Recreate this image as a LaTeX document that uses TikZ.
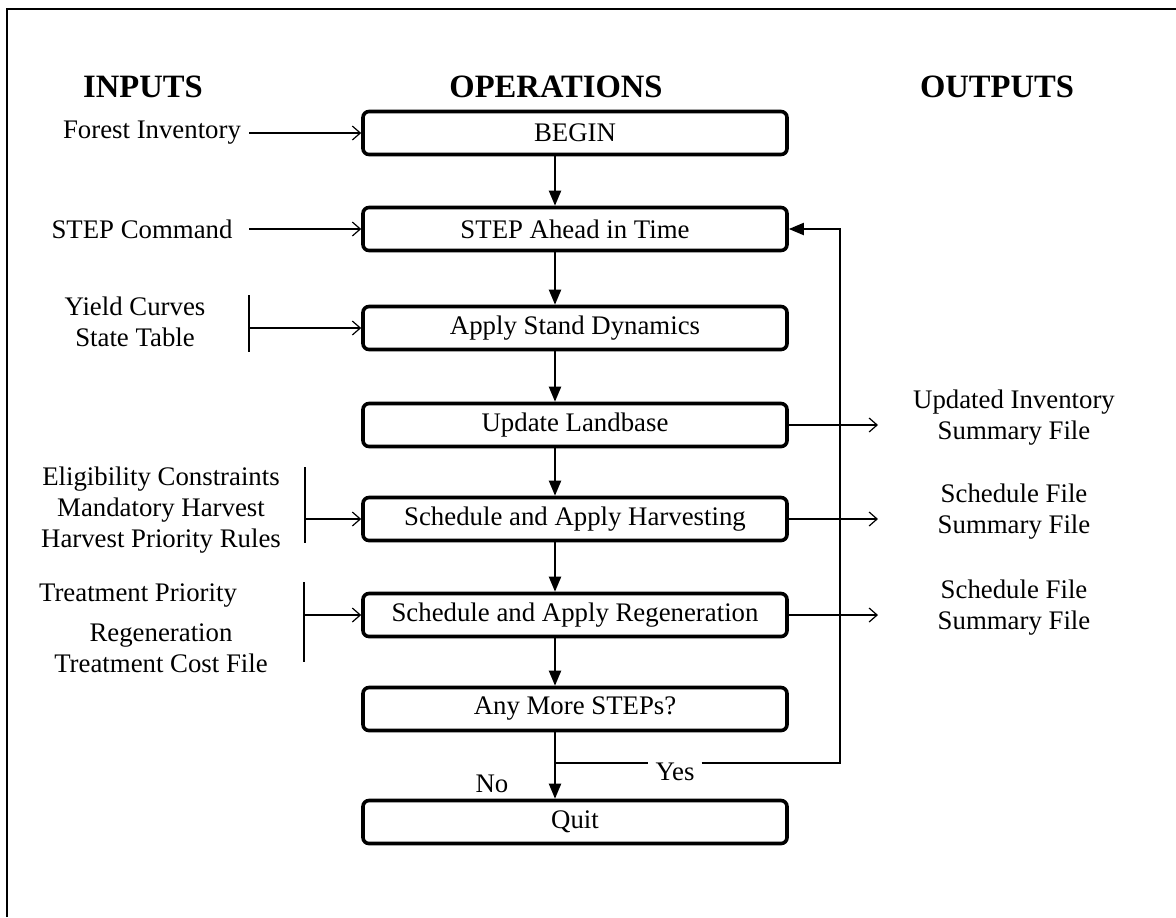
\documentclass[tikz,border=0pt]{standalone}
\usepackage{fontspec}
\setmainfont{Liberation Serif}
\usetikzlibrary{arrows.meta}

\begin{document}
\begin{tikzpicture}[x=0.5pt,y=-0.5pt,
    font=\fontsize{13.4}{15.5}\selectfont,
    head/.style={font=\fontsize{16.3}{18}\selectfont\bfseries},
    opbox/.style={draw=black,line width=1.8pt,rounded corners=3pt,
      minimum width=212pt,minimum height=21.5pt,inner sep=0pt},
    flow/.style={line width=1pt,-{Triangle[length=7.5pt,width=6pt]}},
    feed/.style={line width=0.6pt,-{Straight Barb[length=4pt,width=7pt]}},
    thin/.style={line width=0.6pt}]
  \useasboundingbox (0,0) rectangle (1176,917);
  \draw[line width=1.2pt] (7,917) -- (7,9) -- (1176,9);

  \node[head] (inputs) at (143,87) {INPUTS};
  \node[head] (operations) at (556,87) {OPERATIONS};
  \node[head] (outputs) at (997,87) {OUTPUTS};

  \node[opbox] (begin) at (575,133) {BEGIN};
  \node[opbox] (step) at (575,229) {STEP Ahead in Time};
  \node[opbox] (stand) at (575,328) {Apply Stand Dynamics};
  \node[opbox] (land) at (575,425) {Update Landbase};
  \node[opbox] (harvest) at (575,519) {Schedule and Apply Harvesting};
  \node[opbox] (regen) at (575,615) {Schedule and Apply Regeneration};
  \node[opbox] (more) at (575,709) {Any More STEPs?};
  \node[opbox] (quit) at (575,822) {Quit};

  \coordinate (ax) at (555,0);
  \coordinate (loopx) at (840,0);
  \coordinate (branch) at (555,763);
  \coordinate (outtip) at (878,0);

  \draw[flow] (begin.south -| ax) -- (step.north -| ax);
  \draw[flow] (step.south -| ax) -- (stand.north -| ax);
  \draw[flow] (stand.south -| ax) -- (land.north -| ax);
  \draw[flow] (land.south -| ax) -- (harvest.north -| ax);
  \draw[flow] (harvest.south -| ax) -- (regen.north -| ax);
  \draw[flow] (regen.south -| ax) -- (more.north -| ax);
  \draw[flow] (more.south -| ax) -- (quit.north -| ax);

  \node (no) at (492,784) {No};
  \node (yes) at (675,772) {Yes};
  \draw[line width=1pt] (branch) -- (yes.west |- branch);
  \draw[flow] (yes.east |- branch) -- (loopx |- branch) -- (loopx |- step.east) -- (step.east);

  % inputs
  \node (forest) at (152,133) {Forest Inventory};
  \node (stepcmd) at (142,229) {STEP Command};
  \node[align=center] (yield) at (135,322) {Yield Curves\\State Table};
  \node[align=center] (elig) at (161,510) {Eligibility Constraints\\Mandatory Harvest\\Harvest Priority Rules};
  \node (treat) at (138,596) {Treatment Priority};
  \node[align=center] (regcost) at (161,648) {Regeneration\\Treatment Cost File};

  \coordinate (ytop) at (249,295);
  \coordinate (ybot) at (249,352);
  \coordinate (etop) at (305,467);
  \coordinate (ebot) at (305,543);
  \coordinate (ttop) at (304,582);
  \coordinate (tbot) at (304,662);

  \draw[feed] (forest.east -| ytop) -- (begin.west);
  \draw[feed] (stepcmd.east -| ytop) -- (step.west);
  \draw[thin] (ytop) -- (ybot);
  \draw[feed] (ytop |- stand.west) -- (stand.west);
  \draw[thin] (etop) -- (ebot);
  \draw[feed] (etop |- harvest.west) -- (harvest.west);
  \draw[thin] (ttop) -- (tbot);
  \draw[feed] (ttop |- regen.west) -- (regen.west);

  % outputs
  \node[align=center] (updinv) at (1014,418) {Updated Inventory\\Summary File};
  \node[align=center] (harvout) at (1014,512) {Schedule File\\Summary File};
  \node[align=center] (regout) at (1014,608) {Schedule File\\Summary File};

  \draw[feed] (land.east) -- (land.east -| outtip);
  \draw[feed] (harvest.east) -- (harvest.east -| outtip);
  \draw[feed] (regen.east) -- (regen.east -| outtip);
\end{tikzpicture}
\end{document}
